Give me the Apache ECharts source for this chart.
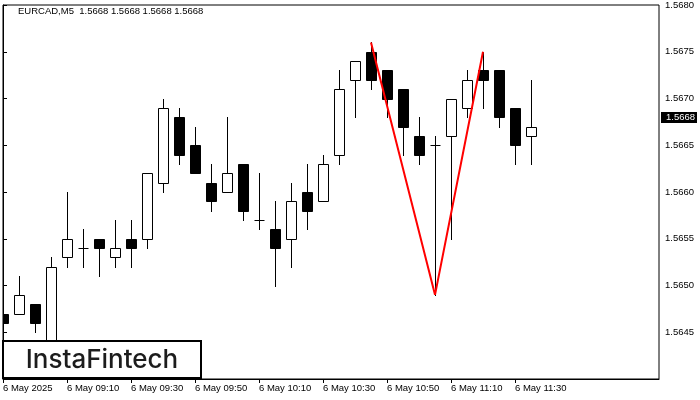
<!DOCTYPE html>
<html>
<head>
<meta charset="utf-8">
<script src="https://cdn.jsdelivr.net/npm/echarts@6/dist/echarts.min.js"></script>
<style>html,body{margin:0;padding:0;background:#fff}#c{width:700px;height:400px}</style>
</head>
<body>
<div id="c"></div>
<script>
// ---- data (EURCAD M5, 6 May 2025) ----
const times  = ['08:50','08:55','09:00','09:05','09:10','09:15','09:20','09:25','09:30','09:35','09:40','09:45','09:50','09:55','10:00','10:05','10:10','10:15','10:20','10:25','10:30','10:35','10:40','10:45','10:50','10:55','11:00','11:05','11:10','11:15','11:20','11:25','11:30','11:35'];
const opens  = [1.5647,1.5647,1.5648,1.5643,1.5653,1.5654,1.5655,1.5653,1.5655,1.5655,1.5661,1.5668,1.5665,1.5661,1.5660,1.5663,1.5657,1.5656,1.5655,1.5660,1.5659,1.5664,1.5672,1.5675,1.5673,1.5671,1.5666,1.5665,1.5666,1.5669,1.5673,1.5673,1.5669,1.5666];
const highs  = [1.5648,1.5651,1.5648,1.5653,1.5660,1.5656,1.5655,1.5657,1.5657,1.5662,1.5670,1.5669,1.5667,1.5663,1.5668,1.5663,1.5662,1.5659,1.5661,1.5663,1.5664,1.5673,1.5674,1.5676,1.5673,1.5671,1.5668,1.5666,1.5670,1.5673,1.5675,1.5673,1.5669,1.5672];
const lows   = [1.5646,1.5647,1.5645,1.5642,1.5652,1.5652,1.5651,1.5652,1.5652,1.5654,1.5660,1.5663,1.5662,1.5658,1.5660,1.5657,1.5656,1.5650,1.5652,1.5656,1.5659,1.5663,1.5668,1.5671,1.5668,1.5664,1.5663,1.5649,1.5655,1.5668,1.5669,1.5667,1.5663,1.5663];
const closes = [1.5646,1.5649,1.5646,1.5652,1.5655,1.5654,1.5654,1.5654,1.5654,1.5662,1.5669,1.5664,1.5662,1.5659,1.5662,1.5658,1.5657,1.5654,1.5659,1.5658,1.5663,1.5671,1.5674,1.5672,1.5670,1.5667,1.5664,1.5665,1.5670,1.5672,1.5672,1.5668,1.5665,1.5667];
const patternIdx    = [23, 27, 30];
const patternPrices = [1.5676, 1.5649, 1.5675];
const lastPrice = 1.5668;
const tickIdx    = [0, 4, 8, 12, 16, 20, 24, 28, 32];
const tickLabels = ['6 May 2025','6 May 09:10','6 May 09:30','6 May 09:50','6 May 10:10','6 May 10:30','6 May 10:50','6 May 11:10','6 May 11:30'];
const yTicks = [1.5645,1.5650,1.5655,1.5660,1.5665,1.5670,1.5675,1.5680];
const header = 'EURCAD,M5  1.5668 1.5668 1.5668 1.5668';

const candleData = times.map((t, i) => [i, opens[i], closes[i], lows[i], highs[i]]);
const patternData = patternIdx.map((i, k) => [i, patternPrices[k]]);
const FONT = 'Liberation Sans';

const chart = echarts.init(document.getElementById('c'), null, {renderer: 'canvas'});
chart.setOption({
  backgroundColor: '#fff',
  animation: false,
  grid: {left: 3, top: 4, width: 656, height: 375, show: true, borderColor: '#000', borderWidth: 1, backgroundColor: 'transparent'},
  xAxis: {
    type: 'value', min: 0, max: 41,
    axisLine: {show: true, lineStyle: {color: '#000', width: 1}},
    axisTick: {show: true, length: 4, lineStyle: {color: '#000'}, customValues: tickIdx},
    axisLabel: {show: true, customValues: tickIdx, align: 'left', margin: 4, color: '#000', fontFamily: FONT, fontSize: 9.5,
      formatter: v => tickLabels[tickIdx.indexOf(Math.round(v))] || ''},
    splitLine: {show: false}
  },
  yAxis: {
    type: 'value', position: 'right', min: 1.5640, max: 1.5680, interval: 0.0005, scale: true,
    axisLine: {show: true, lineStyle: {color: '#000', width: 1}},
    axisTick: {show: true, length: 4, lineStyle: {color: '#000'}, customValues: yTicks},
    axisLabel: {show: true, customValues: yTicks, margin: 6, color: '#000', fontFamily: FONT, fontSize: 9.5, formatter: v => v.toFixed(4)},
    splitLine: {show: false}
  },
  series: [
    {
      type: 'custom', z: 2,
      data: candleData,
      encode: {x: 0, y: [1, 2, 3, 4]},
      renderItem: function (params, api) {
        const i = api.value(0), o = api.value(1), c = api.value(2), l = api.value(3), h = api.value(4);
        const pO = api.coord([i, o]), pC = api.coord([i, c]), pL = api.coord([i, l]), pH = api.coord([i, h]);
        const cs = params.coordSys;
        const x = Math.round(pO[0]) + 0.5;
        const yT = Math.round(Math.min(pO[1], pC[1])) + 0.5;
        const yB = Math.round(Math.max(pO[1], pC[1])) + 0.5;
        const yH = Math.round(pH[1]);
        const yL = Math.round(pL[1]) + 1;
        const bull = c > o;
        const x0 = Math.max(x - 5, cs.x + 0.5), x1 = Math.min(x + 5, cs.x + cs.width - 0.5);
        const children = [];
        if (x >= cs.x) {
          children.push({type: 'line', shape: {x1: x, y1: yH, x2: x, y2: yL}, style: {stroke: '#000', lineWidth: 1}});
        }
        if (yB - yT < 1) {
          children.push({type: 'line', shape: {x1: x0, y1: yT, x2: x1, y2: yT}, style: {stroke: '#000', lineWidth: 1}});
        } else {
          children.push({type: 'rect', shape: {x: x0, y: yT, width: x1 - x0, height: yB - yT},
            style: {fill: bull ? '#fff' : '#000', stroke: '#000', lineWidth: 1}});
        }
        return {type: 'group', children: children};
      },
      markLine: {
        silent: true, symbol: 'none', z: 5,
        lineStyle: {color: '#000', width: 1, type: 'solid'},
        label: {show: false},
        data: [{yAxis: lastPrice}]
      }
    },
    {
      type: 'line', z: 4,
      data: patternData,
      symbol: 'none',
      lineStyle: {color: '#ff0000', width: 2},
      itemStyle: {color: '#ff0000'}
    }
  ]
});

// current price tag on the right axis, positioned through the axis scale
let py = chart.convertToPixel({yAxisIndex: 0}, lastPrice);
if (!isFinite(py)) py = 117;
py = Math.round(py);
chart.setOption({
  graphic: [
    {id: 'hdr', type: 'text', x: 18, y: 11, z: 10,
      style: {text: header, fill: '#000', font: '9.5px "Liberation Sans"', verticalAlign: 'middle'}},
    {id: 'logoBox', type: 'rect', z: 20, shape: {x: 3, y: 341, width: 198, height: 37},
      style: {fill: '#fff', stroke: '#000', lineWidth: 2}},
    {id: 'logoTxt', type: 'text', z: 21, x: 102, y: 360,
      style: {text: 'InstaFintech', fill: '#1c1c1c', font: '500 26px Inter', align: 'center', verticalAlign: 'middle'}},
    {id: 'tagBox', type: 'rect', z: 30, shape: {x: 661, y: py - 5, width: 36, height: 11}, style: {fill: '#000'}},
    {id: 'tagTxt', type: 'text', z: 31, x: 666, y: py + 0.5,
      style: {text: lastPrice.toFixed(4), fill: '#fff', font: '9.5px "Liberation Sans"', verticalAlign: 'middle'}}
  ]
});
</script>
</body>
</html>
